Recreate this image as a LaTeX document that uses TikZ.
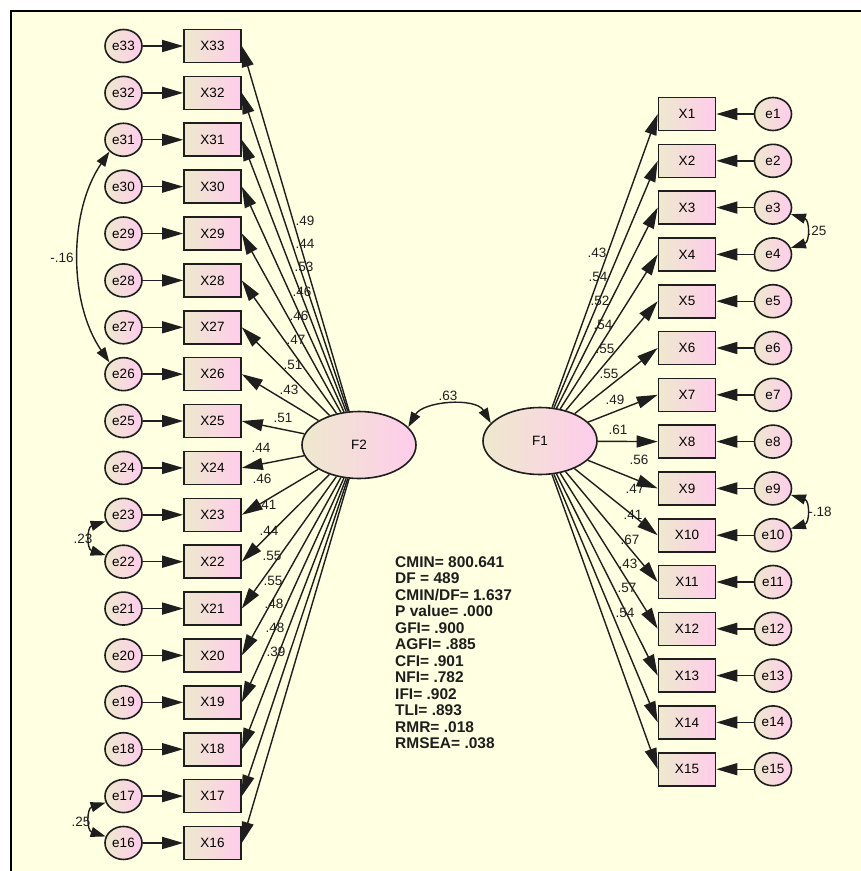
\documentclass[tikz,border=0pt]{standalone}
\usepackage{fontspec}
\setmainfont{Liberation Sans}
\usetikzlibrary{arrows.meta,shapes.geometric}
\definecolor{ambg}{RGB}{255,255,225}
\definecolor{amcream}{RGB}{238,233,205}
\definecolor{ampink}{RGB}{255,204,236}
\definecolor{amline}{RGB}{30,30,30}

\begin{document}
\begin{tikzpicture}[x=1pt,y=-1pt,
  obs/.style={draw=amline,line width=1.6pt,left color=amcream,right color=ampink,
    minimum width=57pt,minimum height=33pt,inner sep=0pt,font=\fontsize{13.5}{15}\selectfont},
  err/.style={ellipse,draw=amline,line width=1.6pt,left color=amcream,right color=ampink,
    minimum width=37pt,minimum height=33pt,inner sep=0pt,font=\fontsize{13.5}{15}\selectfont},
  lat/.style={ellipse,draw=amline,line width=1.6pt,left color=amcream,right color=ampink,
    minimum width=114pt,minimum height=67pt,inner sep=0pt,font=\fontsize{13.5}{15}\selectfont},
  load/.style={-{Triangle[length=21pt,width=12pt]},line width=1.4pt,amline},
  cov/.style={{Triangle[length=15pt,width=10pt]}-{Triangle[length=15pt,width=10pt]},line width=1.4pt,amline},
  lbl/.style={inner sep=0pt,text=amline,font=\fontsize{13.5}{15}\selectfont},
  stats/.style={anchor=north west,align=left,inner sep=0pt,text=amline,
    font=\bfseries\fontsize{15.5}{16.45}\selectfont}]
  \useasboundingbox (0,0) rectangle (861,871);
  \fill[white] (0,0) rectangle (861,871);
  \fill[ambg] (11,11) rectangle (861,871);
  \draw[line width=2.5pt] (11,871) -- (11,11) -- (861,11);

  \node[lat] (F2) at (359,445) {F2};
  \node[lat] (F1) at (540,441) {F1};

  \foreach \i [evaluate=\i as \yy using 46+(33-\i)*46.88] in {16,...,33} {
    \node[obs] (X\i) at (212.5,\yy) {X\i};
    \node[err] (e\i) at (123.5,\yy) {e\i};
    \draw[load] (e\i) -- (X\i);
  }
  \foreach \i [evaluate=\i as \yy using 114+(\i-1)*46.8] in {1,...,15} {
    \node[obs] (X\i) at (687,\yy) {X\i};
    \node[err] (e\i) at (773,\yy) {e\i};
    \draw[load] (e\i) -- (X\i);
  }

  \foreach \i/\v/\lx/\ly in {33/.49/305/221,32/.44/305/244,31/.53/304/267,30/.46/302/292,
      29/.46/299/316,28/.47/296/340,27/.51/293/365,26/.43/289/390,25/.51/283/418,
      24/.44/261/448,23/.46/262/479,22/.41/267/505,21/.44/269/531,20/.55/272/556,
      19/.55/273/581,18/.48/274/604,17/.48/275/628,16/.39/276/652} {
    \draw[load] (F2) -- (X\i.east);
    \node[lbl] (w\i) at (\lx,\ly) {\v};
  }
  \foreach \i/\v/\lx/\ly in {1/.43/597/253,2/.54/598/277,3/.52/600/301,4/.54/603/325,
      5/.55/605/349,6/.55/609/374,7/.49/615/400,8/.61/618/430,9/.56/639/460,
      10/.47/635/489,11/.41/633/515,12/.67/630/540,13/.43/628/564,14/.57/627/588,
      15/.54/625/613} {
    \draw[load] (F1) -- (X\i.west);
    \node[lbl] (w\i) at (\lx,\ly) {\v};
  }

  \draw[cov] (F2.20) .. controls +(15,-26) and +(-15,-26) .. (F1.160);
  \node[lbl] (cF) at (448,396) {.63};
  \draw[cov] (e31.220) .. controls +(-41,60) and +(-41,-60) .. (e26.140);
  \node[lbl] (c31) at (62,258) {-.16};
  \draw[cov] (e23.200) .. controls +(-19,6) and +(-19,-6) .. (e22.160);
  \node[lbl] (c23) at (83,539) {.23};
  \draw[cov] (e17.200) .. controls +(-19,6) and +(-19,-6) .. (e16.160);
  \node[lbl] (c17) at (81,822) {.25};
  \draw[cov] (e3.-20) .. controls +(19,6) and +(19,-6) .. (e4.20);
  \node[lbl] (c3) at (817,231) {.25};
  \draw[cov] (e9.-20) .. controls +(19,6) and +(19,-6) .. (e10.20);
  \node[lbl] (c9) at (820,512) {-.18};

  \node[stats] (fit) at (395,556.5) {CMIN= 800.641\\DF = 489\\CMIN/DF= 1.637\\P value= .000\\GFI= .900\\AGFI= .885\\CFI= .901\\NFI= .782\\IFI= .902\\TLI= .893\\RMR= .018\\RMSEA= .038};
\end{tikzpicture}
\end{document}
